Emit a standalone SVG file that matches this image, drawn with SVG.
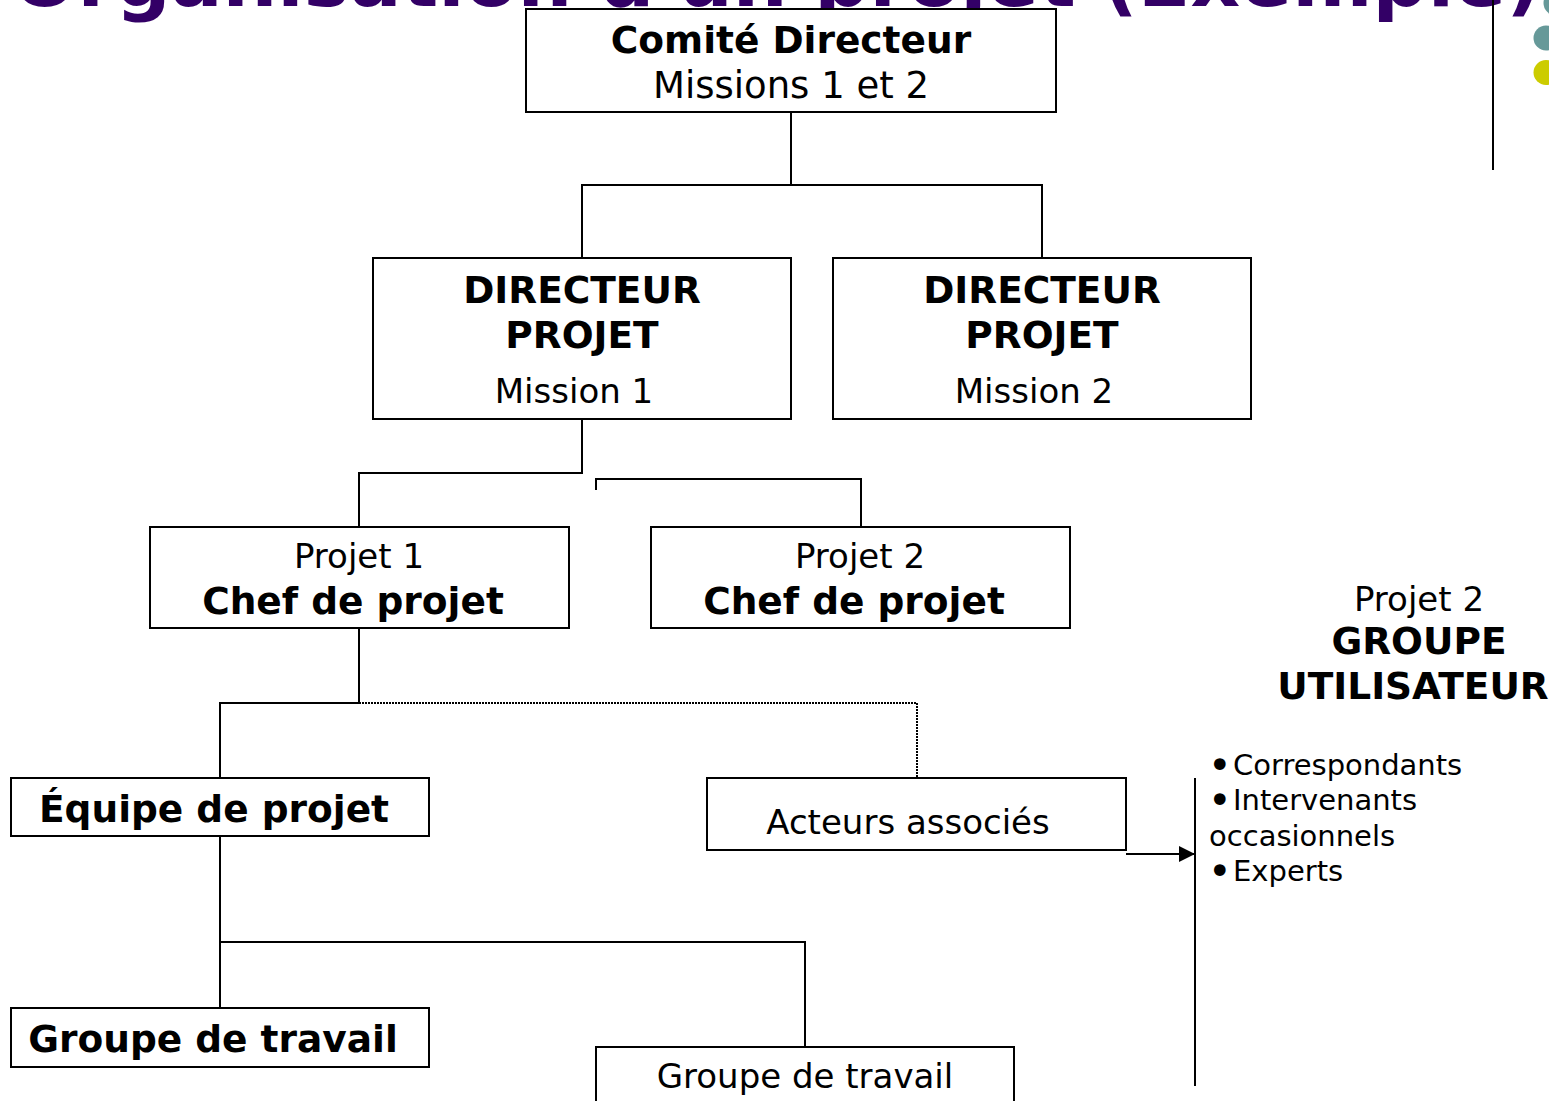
<svg xmlns="http://www.w3.org/2000/svg" width="1549" height="1101" viewBox="0 0 1549 1101">
<style>
.box{fill:#fff;stroke:#000;stroke-width:2}
.ln{fill:none;stroke:#000;stroke-width:2}
.dot{fill:none;stroke:#000;stroke-width:2;stroke-dasharray:2 1}
text{font-family:"DejaVu Sans",sans-serif;fill:#000}
.b{font-weight:bold;font-size:37.5px}
.n{font-size:34px}
.s{font-size:29px}
.bu{font-size:40px}
.c{text-anchor:middle}
</style>
<defs>
<marker id="arr" viewBox="0 0 10 10" refX="10" refY="5" markerWidth="16" markerHeight="16" markerUnits="userSpaceOnUse" orient="auto">
<path d="M0,0 L10,5 L0,10 Z" fill="#000"/>
</marker>
</defs>
<g id="title">
<text x="12" y="6" style="font-weight:bold;font-size:77px;fill:#330066">Organisation d'un projet (Exemple)</text>
<line x1="1493" y1="0" x2="1493" y2="170" class="ln"/>
<circle cx="1556" cy="3" r="12.5" fill="#669999"/>
<circle cx="1546" cy="38" r="12.5" fill="#669999"/>
<circle cx="1546" cy="72.5" r="12.5" fill="#CCCC00"/>
</g>
<g id="connectors">
<path class="ln" d="M791,112 V185 M582,258 V185 H1042 V258"/>
<path class="ln" d="M582,419 V473 H359 V527"/>
<path class="ln" d="M596,490 V479 H861 V527"/>
<path class="ln" d="M359,628 V703 H220 V778"/>
<path class="dot" d="M359,703 H917 V778"/>
<path class="ln" d="M220,836 V1008 M220,942 H805 V1047"/>
<line class="ln" x1="1126" y1="854" x2="1195" y2="854" marker-end="url(#arr)"/>
<line class="ln" x1="1195" y1="778" x2="1195" y2="1086"/>
</g>
<g id="comite">
<rect class="box" x="526" y="9" width="530" height="103"/>
<text class="b c" x="791" y="53">Comité Directeur</text>
<text class="c" x="791" y="98" style="font-size:37px">Missions 1 et 2</text>
</g>
<g id="dir1">
<rect class="box" x="373" y="258" width="418" height="161"/>
<text class="b c" x="582" y="303">DIRECTEUR</text>
<text class="b c" x="582" y="348">PROJET</text>
<text class="n c" x="574" y="403">Mission 1</text>
</g>
<g id="dir2">
<rect class="box" x="833" y="258" width="418" height="161"/>
<text class="b c" x="1042" y="303">DIRECTEUR</text>
<text class="b c" x="1042" y="348">PROJET</text>
<text class="n c" x="1034" y="403">Mission 2</text>
</g>
<g id="projet1">
<rect class="box" x="150" y="527" width="419" height="101"/>
<text class="n c" x="359" y="568">Projet 1</text>
<text class="b c" x="353" y="614">Chef de projet</text>
</g>
<g id="projet2">
<rect class="box" x="651" y="527" width="419" height="101"/>
<text class="n c" x="860" y="568">Projet 2</text>
<text class="b c" x="854" y="614">Chef de projet</text>
</g>
<g id="equipe">
<rect class="box" x="11" y="778" width="418" height="58"/>
<text class="b c" x="214" y="822">Équipe de projet</text>
</g>
<g id="acteurs">
<rect class="box" x="707" y="778" width="419" height="72"/>
<text class="n c" x="908" y="834">Acteurs associés</text>
</g>
<g id="groupe1">
<rect class="box" x="11" y="1008" width="418" height="59"/>
<text class="b c" x="213" y="1052">Groupe de travail</text>
</g>
<g id="groupe2">
<rect class="box" x="596" y="1047" width="418" height="70"/>
<text class="n c" x="805" y="1088">Groupe de travail</text>
</g>
<g id="utilisateur">
<text class="n c" x="1419" y="611">Projet 2</text>
<text class="b c" x="1419" y="654">GROUPE</text>
<text class="b c" x="1413" y="699">UTILISATEUR</text>
</g>
<g id="liste">
<text class="s" x="1208" y="775"><tspan class="bu" dy="4">•</tspan><tspan x="1233" dy="-4">Correspondants</tspan></text>
<text class="s" x="1208" y="810"><tspan class="bu" dy="4">•</tspan><tspan x="1233" dy="-4">Intervenants</tspan></text>
<text class="s" x="1209" y="846">occasionnels</text>
<text class="s" x="1208" y="881"><tspan class="bu" dy="4">•</tspan><tspan x="1233" dy="-4">Experts</tspan></text>
</g>
</svg>
